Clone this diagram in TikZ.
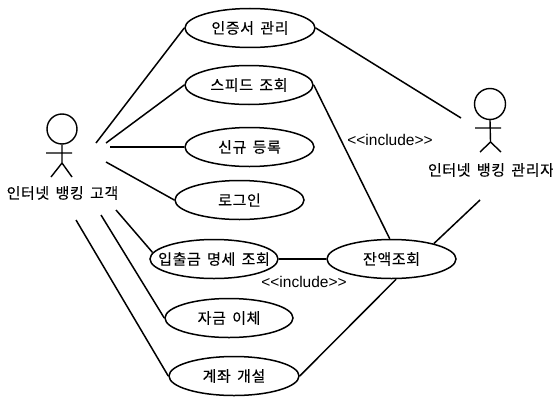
\documentclass[tikz,border=0pt]{standalone}
\usepackage{fontspec}
\setmainfont{Liberation Sans}
\newfontfamily\krfont[LetterSpace=4,WordSpace=1.6,FakeBold=0.2]{Noto Sans CJK KR}
\usetikzlibrary{shapes.geometric}
\tikzset{
  uc/.style={draw,ellipse,line width=1.5pt,minimum height=39pt,inner ysep=0pt,inner xsep=-25pt,font=\krfont\fontsize{15}{17}\selectfont,text=black},
  link/.style={line width=1.5pt},
  actorline/.style={line width=1.4pt},
  actorname/.style={inner sep=0pt,font=\krfont\fontsize{15}{17}\selectfont},
  stereo/.style={inner sep=0pt,font=\fontsize{15.5}{17}\selectfont}
}
\begin{document}
\begin{tikzpicture}[x=1pt,y=-1pt]
\useasboundingbox (0,0) rectangle (553,396);
% use cases
\node[uc,minimum width=130pt] (cert) at (250,28) {인증서 관리};
\node[uc,minimum width=128pt] (speed) at (249,85) {스피드 조회};
\node[uc,minimum width=129pt] (new) at (249.5,147) {신규 등록};
\node[uc,minimum width=129pt] (login) at (239.5,200) {로그인};
\node[uc,minimum width=128pt] (stmt) at (214,259) {입출금 명세 조회};
\node[uc,minimum width=128pt] (xfer) at (229,318) {자금 이체};
\node[uc,minimum width=130pt] (open) at (234,376) {계좌 개설};
\node[uc,minimum width=129pt] (bal) at (391.5,259) {잔액조회};
% left actor
\node[draw,circle,actorline,minimum size=30pt,inner sep=0pt] (lhead) at (62,129) {};
\coordinate (lhip) at (62,163);
\coordinate (larml) at (46,153);
\coordinate (larmr) at (72,153);
\coordinate (lfootl) at (51,177);
\coordinate (lfootr) at (72,177);
\draw[actorline] (lhead.south) -- (lhip) (larml) -- (larmr) (lfootl) -- (lhip) -- (lfootr);
\node[actorname] (lname) at (62.5,193) {인터넷 뱅킹 고객};
% right actor
\node[draw,circle,actorline,minimum size=31pt,inner sep=0pt] (rhead) at (490,104) {};
\coordinate (rhip) at (490.5,142);
\coordinate (rarml) at (475,128);
\coordinate (rarmr) at (501,128);
\coordinate (rfootl) at (480,152);
\coordinate (rfootr) at (501,152);
\draw[actorline] (rhead.south) -- (rhip) (rarml) -- (rarmr) (rfootl) -- (rhip) -- (rfootr);
\node[actorname] (rname) at (491,170) {인터넷 뱅킹 관리자};
% free connector ends
\coordinate (a1) at (96,143);
\coordinate (a2) at (106,143);
\coordinate (a3) at (110,147);
\coordinate (a4) at (106,162);
\coordinate (a5) at (116,210);
\coordinate (a6) at (101,215);
\coordinate (a7) at (76,220);
\coordinate (b1) at (461,118);
\coordinate (b2) at (480,200);
% connectors
\draw[link] (a1) -- (cert.west);
\draw[link] (a2) -- (speed.west);
\draw[link] (a3) -- (new.west);
\draw[link] (a4) -- (login.west);
\draw[link] (a5) -- (stmt.174);
\draw[link] (a6) -- (xfer.west);
\draw[link] (a7) -- (open.west);
\draw[link] (cert.east) -- (b1);
\draw[link] (speed.east) -- (bal.95);
\draw[link] (stmt.east) -- (bal.west);
\draw[link] (bal.20) -- (b2);
\draw[link] (open.east) -- (bal.283);
% labels
\node[stereo] (inc1) at (390,140) {<{}<include>{}>};
\node[stereo] (inc2) at (304,282) {<{}<include>{}>};
\end{tikzpicture}
\end{document}
